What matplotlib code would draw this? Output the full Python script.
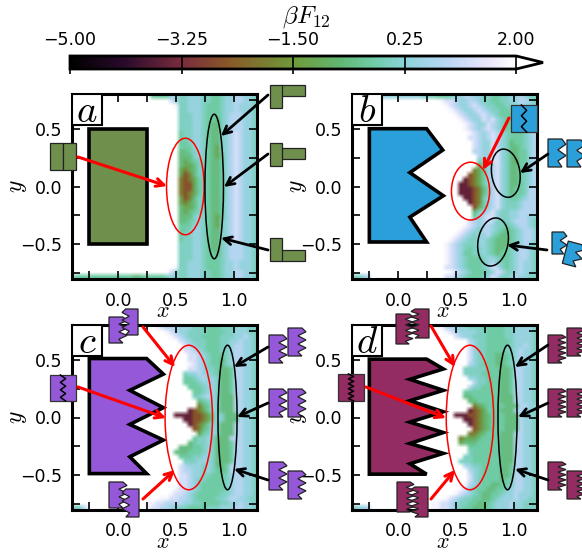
import numpy as np
import matplotlib
matplotlib.use("Agg")
import matplotlib.pyplot as plt
from matplotlib.colors import LinearSegmentedColormap
from matplotlib.patches import Ellipse, Polygon, Rectangle
from matplotlib.transforms import Affine2D

plt.rcParams["mathtext.fontset"] = "cm"
plt.rcParams["font.size"] = 12.5

W, H = 582, 554

# free energy, one char per cell, 0.04 wide. rows run from y=0.78 down
# rows are padded on the left with white
level_chars = ".9876543210x"
level_values = [2.5, 1.8, 1.3, 0.85, 0.4, 0.05, -0.25, -0.6, -1.1, -1.9, -2.6, -3.5]

rows_a_top = [
    "44446755666554456677665",
    "8655666554456677665",
    "955666544456676665",
    "55666544456676665",
    "55566544456777665",
    "55566544356777665",
    "55566543356777665",
    "55566543356777665",
    "45566543356787665",
    "45566543356787665",
    "44566543356787665",
    "44466543256787665",
    "33456543256787665",
    "33356543246787665",
    "32345543346787665",
    "32235543346787665",
    "21235543346787665",
    "20135543346787665",
    "10124543346787665",
    "10024543346787665",
]
row_a_bottom = "54444444444443344444566" + "55666554456677665"

rows_b = [
    "66666666666665554445667766554455667655",
    "988766776554455667765",
    "98766787655445567665",
    "9876678765544556765",
    "987667876544455676",
    "98766878654445676",
    "9876687654445676",
    "9876787654445676",
    "987678765444567",
    "887678765444567",
    "87668765344567",
    "87668765334567",
    "77668865334467",
    "7668865334467",
    "5568865324467",
    "2467865334567",
    "12467865334567",
    "012467865334567",
    "x012467865334567",
    "xx012467865334567",
    "xxx01357865344577",
    "xxx01357865344577",
    "xx01467865445677",
    "x01467865556777",
    "02467865556777",
    "35678655667777",
    "46788655667766",
    "876787555677765",
    "9876776554567765",
    "98765776543456776",
    "987656675433456776",
    "9876556654333456776",
    "98765556654333456765",
    "98765455654334567765",
    "98764455654344567765",
    "98765444566544567765",
    "98765444567554567665",
    "88765444568754567665",
    "9876544456875567665",
    "5567................88765444568755676655",
]

rows_c = [
    "9877766655444455566655",
    "98766555544445566655",
    "9876555444455566765",
    "87655544455667665",
    "8765544455677665",
    "8876544455677665",
    "887654445677665",
    "887654435677665",
    "987654435677665",
    "887655433477665",
    "5667665433477665",
    "4456766533477665",
    "4445666533477665",
    "444566533477665",
    "44566533477665",
    "55676533377665",
    "3456533377665",
    "1346533377665",
    "x01246533377665",
    "xxxx00124653337665",
    "xx00124653337665",
    "x01246533377665",
    "01346533377665",
    "2456533377665",
    "45565333777665",
    "345565333477665",
    "33344565333477665",
    "333444565333477665",
    "44455665333477665",
    "5556665333477665",
    "87666565334777665",
    "87766565434777665",
    "88766554445677665",
    "88765544445677665",
    "88765444445677665",
    "988765444445677665",
    "9887654444455677665",
    "998877654444556776655",
    "998877776655444455667665",
    "5579............988776655444455566677665",
]

rows_d = [
    "9977666555444445566665",
    "98766665544445566665",
    "876655544445566665",
    "765544444566665",
    "865544444566765",
    "865544445567665",
    "865544334567665",
    "865544334567665",
    "765444334567765",
    "5555544433477665",
    "5555444433477665",
    "665544433477665",
    "75544433477665",
    "755444433477665",
    "4444444433477665",
    "3344444433377665",
    "334444433377665",
    "12344443337766",
    "x01244433377665",
    "xxx001234443337665",
    "xx01234443337665",
    "x01234443337665",
    "01234443337665",
    "112344433377665",
    "12223444433377665",
    "23334444433377665",
    "444444433377665",
    "544444433377665",
    "5544444433377665",
    "55544444433377665",
    "7655444433477665",
    "765444433477665",
    "865444433477665",
    "865444434577665",
    "9765443344577665",
    "98654433445677665",
    "987654334456676665",
    "98765544334566676655",
    "99887655443345666766555",
    "5667.............99887654433345666766555",
]

# large particle outlines in data units
shape_a = [(-0.25, 0.5), (0.25, 0.5), (0.25, -0.5), (-0.25, -0.5)]
shape_b = [(-0.25, 0.5), (0.245, 0.5), (0.385, 0.315), (0.10, 0.12), (0.39, -0.08),
           (0.10, -0.265), (0.245, -0.48), (-0.25, -0.48)]
shape_c = [(-0.25, 0.51), (0.245, 0.51), (0.39, 0.375), (0.10, 0.235), (0.39, 0.085),
           (0.10, -0.06), (0.39, -0.195), (0.10, -0.34), (0.245, -0.485), (-0.25, -0.485)]
shape_d = [(-0.25, 0.505), (0.245, 0.505), (0.39, 0.42), (0.10, 0.33), (0.39, 0.235),
           (0.10, 0.145), (0.39, 0.05), (0.10, -0.04), (0.39, -0.13), (0.10, -0.225),
           (0.39, -0.31), (0.10, -0.40), (0.245, -0.49), (-0.25, -0.49)]

color_a = "#6f8f4d"
color_b = "#2b9fd9"
color_c = "#9558d8"
color_d = "#932c63"

x_ticks = [-0.25, 0.0, 0.25, 0.5, 0.75, 1.0]
x_tick_labels = ["", "0.0", "", "0.5", "", "1.0"]
y_ticks = [-0.75, -0.5, -0.25, 0.0, 0.25, 0.5, 0.75]
y_tick_labels = ["", "\u22120.5", "", "0.0", "", "0.5", ""]
cbar_ticks = [-5.0, -3.25, -1.5, 0.25, 2.0]
cbar_labels = ["\u22125.00", "\u22123.25", "\u22121.50", "0.25", "2.00"]

cmap = LinearSegmentedColormap.from_list("bf", [
    (0.0, "#000000"), (0.12, "#2a0a2c"), (0.25, "#7a2c3c"), (0.36, "#8a5a28"),
    (0.5, "#6f9a3a"), (0.6, "#62b56f"), (0.68, "#6fcca5"), (0.75, "#8bd3d8"),
    (0.85, "#bcd6f5"), (0.94, "#eae6fb"), (1.0, "#ffffff")])
cmap.set_over("white")


def to_grid(rows):
    lookup = dict(zip(level_chars, level_values))
    return np.array([[lookup[c] for c in r.rjust(40, ".")] for r in rows])


def px_rect(x0, x1, y0, y1):
    return [x0 / W, 1 - y1 / H, (x1 - x0) / W, (y1 - y0) / H]


fig = plt.figure(figsize=(W / 100, H / 100), dpi=100)

grids = [to_grid(rows_a_top + rows_a_top[::-1][:-1] + [row_a_bottom]),
         to_grid(rows_b), to_grid(rows_c), to_grid(rows_d)]
boxes = [(72, 257, 94, 279), (352, 537, 94, 279), (72, 257, 325, 510), (352, 537, 325, 510)]
shapes = [shape_a, shape_b, shape_c, shape_d]
colors = [color_a, color_b, color_c, color_d]
names = ["a", "b", "c", "d"]
# red ellipse then black ellipses: x, y, width, height, angle
ellipses = [
    [(0.58, 0.0, 0.325, 0.835, 0, "red"), (0.83, 0.0, 0.16, 1.25, 0, "black")],
    [(0.625, -0.04, 0.33, 0.50, 0, "red"), (0.93, 0.115, 0.245, 0.42, 8, "black"),
     (0.82, -0.48, 0.26, 0.42, -10, "black")],
    [(0.61, 0.0, 0.41, 1.25, 0, "red"), (0.945, 0.0, 0.165, 1.25, 0, "black")],
    [(0.62, 0.0, 0.41, 1.25, 0, "red"), (0.945, 0.0, 0.165, 1.25, 0, "black")],
]

for i in range(4):
    ax = fig.add_axes(px_rect(*boxes[i]))
    im = ax.imshow(grids[i], extent=(-0.4, 1.2, -0.8, 0.8), origin="upper", cmap=cmap,
                   vmin=-5, vmax=2, aspect="auto", interpolation="bilinear",
                   interpolation_stage="rgba")
    ax.add_patch(Polygon(shapes[i], closed=True, fc=colors[i], ec="black", lw=2.6, joinstyle="miter"))
    for ex, ey, ew, eh, ang, col in ellipses[i]:
        ax.add_patch(Ellipse((ex, ey), ew, eh, angle=ang, fc="none", ec=col, lw=1.1))
    ax.set_xlim(-0.4, 1.2)
    ax.set_ylim(-0.8, 0.8)
    ax.set_xticks(x_ticks)
    ax.set_xticklabels(x_tick_labels)
    ax.set_yticks(y_ticks)
    ax.set_yticklabels(y_tick_labels)
    ax.tick_params(direction="in", top=True, right=True, length=6, width=1.2, color="black")
    ax.tick_params(axis="x", pad=9)
    ax.tick_params(axis="y", pad=7)
    for s in ax.spines.values():
        s.set_linewidth(2.2)
    ax.set_xlabel("$x$", fontsize=16, labelpad=-6)
    ax.set_ylabel("$y$", fontsize=17, labelpad=-6)
    ax.xaxis.label.set_x(0.49)
    ax.add_patch(Rectangle((0, 0.832), 0.162, 0.168, transform=ax.transAxes, fc="white",
                           ec="black", lw=1.5, zorder=5))
    ax.text(0.081, 0.908, "$%s$" % names[i], transform=ax.transAxes, fontsize=28,
            ha="center", va="center", zorder=6)

cax = fig.add_axes(px_rect(70, 543, 56, 69))
cb = fig.colorbar(im, cax=cax, orientation="horizontal", extend="max", extendfrac=0.06)
cb.set_ticks(cbar_ticks)
cb.set_ticklabels(cbar_labels)
cax.xaxis.set_ticks_position("top")
cax.tick_params(direction="in", length=13, width=1.2, pad=5, labelsize=12.5)
cb.outline.set_linewidth(2)
cax.xaxis.set_label_position("top")
cb.set_label(r"$\beta F_{12}$", fontsize=18, labelpad=6)
cax.xaxis.label.set_x(0.53)

# overlay in pixels for the small particle sketches and arrows
ov = fig.add_axes([0, 0, 1, 1], facecolor="none", zorder=10)
ov.set_xlim(0, W)
ov.set_ylim(H, 0)
ov.axis("off")


def block(shape, x0, x1, y0, y1, color, flip=False, angle=0):
    pts = np.array(shape, float)
    sx = (pts[:, 0] - pts[:, 0].min()) / np.ptp(pts[:, 0])
    sy = (pts[:, 1].max() - pts[:, 1]) / np.ptp(pts[:, 1])
    if flip:
        sx = 1 - sx
    xy = np.column_stack([x0 + sx * (x1 - x0), y0 + sy * (y1 - y0)])
    if angle:
        xy = Affine2D().rotate_deg_around((x0 + x1) / 2, (y0 + y1) / 2, angle).transform(xy)
    ov.add_patch(Polygon(xy, closed=True, fc=color, ec="#222222", lw=0.9, clip_on=True))


def zig_square(x0, x1, y0, y1, color, n):
    ov.add_patch(Rectangle((x0, y0), x1 - x0, y1 - y0, fc=color, ec="#333333", lw=0.9))
    ys = np.linspace(y0, y1, 2 * n + 2)
    mid = (x0 + x1) / 2
    xs = [mid - 0.5 * (-1) ** k * (x1 - x0) * 0.2 for k in range(len(ys))]
    ov.plot(xs, ys, color="black", lw=1.1)


def arrow(p0, p1, color):
    lw = 2.2 if color == "red" else 2.0
    ov.annotate("", xy=p1, xytext=p0, arrowprops=dict(arrowstyle="->", color=color, lw=lw,
                                                      mutation_scale=14, shrinkA=0, shrinkB=0))


# panel a sketches
block(shape_a, 50, 63, 143, 170, color_a)
block(shape_a, 63, 76, 143, 170, color_a)
for y0, bar0 in [(85, 85), (142.5, 148), (238, 250)]:
    block(shape_a, 281, 305, bar0, bar0 + 11, color_a)
    block(shape_a, 270, 282, y0, y0 + 23, color_a)
arrow((78, 157), (167, 186), "red")
arrow((268, 95), (221, 136), "black")
arrow((268, 154), (224, 187), "black")
arrow((268, 250), (221, 238), "black")

# panel b
zig_square(511, 537, 105, 132, color_b, 2)
block(shape_b, 548, 566, 139, 167, color_b)
block(shape_b, 567, 585, 140, 167, color_b)
block(shape_b, 552, 567, 232, 254, color_b)
block(shape_b, 565, 583, 243, 266, color_b, angle=15)
arrow((509, 118), (483, 170), "red")
arrow((548, 154), (520, 173), "black")
arrow((547, 250), (507, 245), "black")

# panel c
zig_square(50, 76, 375, 401, color_c, 3)
block(shape_c, 109, 127, 317, 343, color_c)
block(shape_c, 122, 138, 309, 335, color_c, flip=True)
block(shape_c, 109, 127, 482, 508, color_c)
block(shape_c, 122, 139, 489, 517, color_c, flip=True)
for y0, y1 in [(335, 328), (389, 389), (462, 471)]:
    block(shape_c, 269, 287, y0, y0 + 28, color_c)
    block(shape_c, 288, 306, y1, y1 + 28, color_c)
arrow((78, 387), (166, 418), "red")
arrow((143, 327), (175, 367), "red")
arrow((143, 499), (175, 470), "red")
arrow((268, 347), (234, 367), "black")
arrow((268, 403), (237, 417), "black")
arrow((268, 480), (234, 469), "black")

# panel d
zig_square(338, 364, 374, 401, color_d, 5)
block(shape_d, 396, 413, 314, 344, color_d)
block(shape_d, 411, 429, 309, 338, color_d, flip=True)
block(shape_d, 397, 414, 482, 512, color_d)
block(shape_d, 411, 428, 487, 517, color_d, flip=True)
for y0, y1 in [(335, 328), (389, 389), (462, 471)]:
    block(shape_d, 548, 566, y0, y0 + 28, color_d)
    block(shape_d, 567, 585, y1, y1 + 28, color_d)
arrow((366, 387), (446, 418), "red")
arrow((431, 326), (455, 367), "red")
arrow((431, 499), (455, 470), "red")
arrow((548, 345), (515, 367), "black")
arrow((548, 403), (518, 417), "black")
arrow((548, 480), (515, 469), "black")

fig.savefig("out.png", dpi=100)
